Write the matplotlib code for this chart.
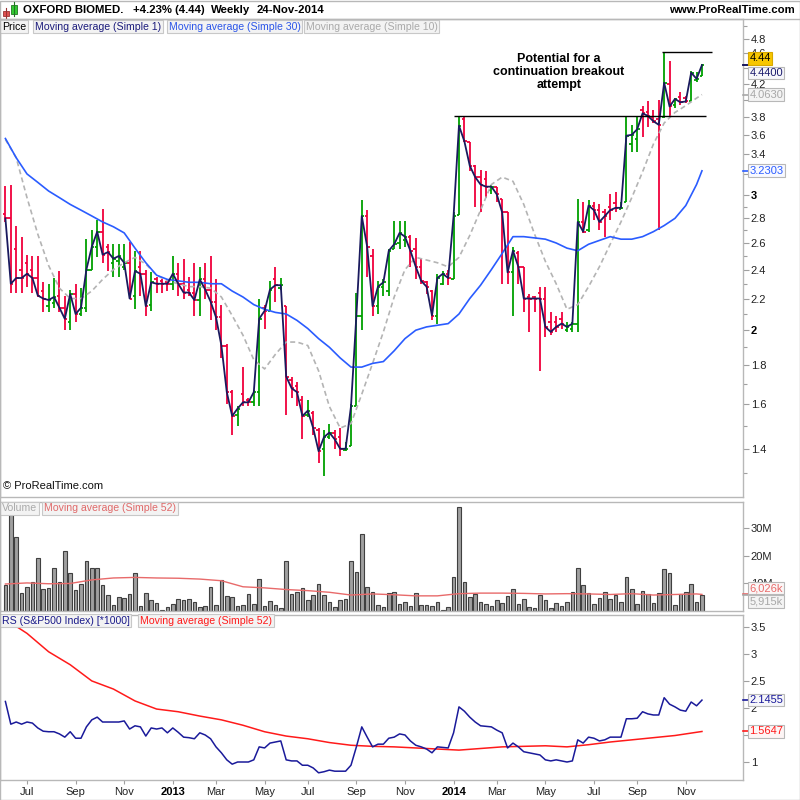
import numpy as np
import pandas as pd
import matplotlib
matplotlib.use('Agg')
import matplotlib.pyplot as plt
import matplotlib.transforms as mtransforms
from matplotlib.patches import Rectangle
from matplotlib.lines import Line2D
from matplotlib.ticker import NullFormatter

plt.rcParams['font.family'] = ['Liberation Sans', 'DejaVu Sans']

# weekly bars, 4-Jun-2012 .. 24-Nov-2014
week_start = '2012-06-04'
n_weeks = 130

op = [2.84, 2.80, 2.55, 2.40, 2.45, 2.40, 2.34, 2.25, 2.15, 2.17,
      2.22, 2.14, 2.05, 2.23, 2.10, 2.14, 2.40, 2.57, 2.69, 2.57,
      2.45, 2.46, 2.42, 2.45, 2.22, 2.42, 2.37, 2.16, 2.33, 2.32,
      2.31, 2.30, 2.37, 2.30, 2.26, 2.24, 2.19, 2.33, 2.26, 2.18,
      2.08, 1.91, 1.66, 1.55, 1.65, 1.62, 1.61, 1.66, 2.14, 2.12,
      2.33, 2.27, 2.15, 1.72, 1.69, 1.62, 1.55, 1.56, 1.48, 1.40,
      1.45, 1.47, 1.45, 1.395, 1.41, 1.59, 2.09, 2.82, 2.50, 2.15,
      2.28, 2.25, 2.55, 2.60, 2.62, 2.65, 2.55, 2.42, 2.31, 2.25,
      2.09, 2.30, 2.37, 2.33, 2.83, 3.78, 3.52, 3.28, 3.17, 3.15,
      3.05, 3.08, 2.97, 2.85, 2.38, 2.52, 2.42, 2.21, 2.21, 2.24,
      2.20, 2.05, 2.05, 2.07, 2.00, 2.01, 2.04, 2.77, 2.70, 2.91,
      2.87, 2.85, 2.90, 2.93, 2.88, 2.94, 3.50, 3.55, 3.88, 3.86,
      3.80, 3.78, 3.80, 4.20, 3.94, 4.03, 4.02, 3.99, 4.24, 4.30]
hi = [3.09, 3.10, 2.74, 2.65, 2.51, 2.50, 2.50, 2.31, 2.30, 2.34,
      2.39, 2.22, 2.26, 2.30, 2.27, 2.63, 2.70, 2.79, 2.88, 2.59,
      2.59, 2.59, 2.59, 2.61, 2.54, 2.54, 2.40, 2.38, 2.35, 2.33,
      2.33, 2.50, 2.45, 2.48, 2.35, 2.45, 2.42, 2.45, 2.50, 2.33,
      2.16, 1.92, 1.67, 1.59, 1.79, 1.63, 1.67, 2.20, 2.16, 2.32,
      2.42, 2.34, 2.15, 1.74, 1.71, 1.64, 1.62, 1.57, 1.49, 1.48,
      1.51, 1.48, 1.49, 1.43, 1.60, 2.24, 2.96, 2.87, 2.55, 2.32,
      2.33, 2.55, 2.78, 2.78, 2.78, 2.66, 2.64, 2.48, 2.32, 2.26,
      2.37, 2.39, 2.40, 2.85, 3.81, 3.81, 3.52, 3.29, 3.24, 3.23,
      3.10, 3.08, 2.97, 2.85, 2.57, 2.54, 2.42, 2.23, 2.22, 2.28,
      2.28, 2.11, 2.09, 2.11, 2.05, 2.05, 2.97, 2.94, 2.96, 2.94,
      2.92, 2.88, 3.01, 3.03, 2.94, 3.81, 3.71, 3.81, 3.92, 3.99,
      3.88, 4.00, 4.62, 4.49, 4.02, 4.10, 4.04, 4.36, 4.35, 4.45]
lo = [2.77, 2.24, 2.24, 2.24, 2.28, 2.24, 2.21, 2.11, 2.11, 2.14,
      2.11, 2.00, 2.00, 2.05, 2.09, 2.11, 2.40, 2.49, 2.45, 2.39,
      2.35, 2.35, 2.40, 2.20, 2.13, 2.22, 2.09, 2.12, 2.24, 2.24,
      2.25, 2.26, 2.22, 2.20, 2.22, 2.09, 2.09, 2.20, 2.06, 2.00,
      1.84, 1.60, 1.46, 1.50, 1.59, 1.59, 1.59, 1.59, 2.01, 2.12,
      2.18, 2.26, 1.55, 1.63, 1.59, 1.44, 1.54, 1.46, 1.34, 1.29,
      1.44, 1.40, 1.37, 1.39, 1.41, 1.59, 2.00, 2.35, 2.09, 2.10,
      2.22, 2.22, 2.55, 2.55, 2.57, 2.42, 2.33, 2.30, 2.23, 2.06,
      2.04, 2.29, 2.29, 2.33, 2.83, 3.52, 3.23, 2.90, 2.85, 2.98,
      3.01, 2.94, 2.30, 2.30, 2.09, 2.30, 2.11, 1.99, 2.11, 1.77,
      1.96, 1.97, 1.99, 2.01, 1.99, 1.99, 1.99, 2.68, 2.69, 2.79,
      2.70, 2.65, 2.79, 2.85, 2.88, 2.94, 3.42, 3.42, 3.58, 3.69,
      3.73, 2.70, 3.79, 3.81, 3.90, 3.94, 3.96, 3.98, 4.22, 4.29]
cl = [2.80, 2.30, 2.34, 2.34, 2.37, 2.34, 2.22, 2.20, 2.19, 2.21,
      2.14, 2.07, 2.23, 2.10, 2.14, 2.40, 2.57, 2.69, 2.51, 2.53,
      2.48, 2.50, 2.45, 2.20, 2.39, 2.37, 2.15, 2.31, 2.30, 2.30,
      2.30, 2.37, 2.30, 2.24, 2.24, 2.19, 2.33, 2.26, 2.18, 2.08,
      1.91, 1.66, 1.545, 1.58, 1.61, 1.61, 1.66, 2.07, 2.12, 2.26,
      2.29, 2.29, 1.74, 1.68, 1.66, 1.545, 1.57, 1.49, 1.39, 1.45,
      1.47, 1.44, 1.40, 1.40, 1.59, 2.09, 2.82, 2.57, 2.15, 2.28,
      2.31, 2.54, 2.59, 2.68, 2.65, 2.54, 2.42, 2.32, 2.28, 2.09,
      2.34, 2.37, 2.34, 2.82, 3.70, 3.53, 3.28, 3.17, 3.10, 3.08,
      3.08, 3.01, 2.85, 2.38, 2.54, 2.42, 2.20, 2.20, 2.20, 2.20,
      2.02, 1.99, 2.02, 2.04, 2.02, 2.04, 2.77, 2.69, 2.91, 2.87,
      2.77, 2.82, 2.87, 2.89, 2.89, 3.59, 3.60, 3.66, 3.84, 3.81,
      3.75, 3.71, 4.21, 3.92, 4.01, 3.97, 3.98, 4.34, 4.26, 4.44]

# volume in millions of shares
vol_m = [9.5, 35.6, 27.0, 6.5, 8.7, 10.5, 19.3, 8.0, 8.4, 15.6,
         10.5, 21.8, 13.8, 7.6, 9.8, 18.2, 15.6, 15.6, 9.5, 5.8,
         2.2, 5.1, 4.7, 6.2, 13.8, 1.8, 6.5, 4.0, 2.9, 0.4,
         1.5, 2.5, 4.4, 4.0, 4.4, 3.3, 1.5, 1.8, 8.7, 2.2,
         11.3, 5.5, 5.1, 1.8, 2.2, 6.2, 2.5, 11.6, 1.8, 3.6,
         2.2, 1.1, 18.2, 6.2, 6.9, 8.4, 4.0, 5.8, 9.8, 5.8,
         3.3, 1.5, 4.0, 4.4, 18.2, 14.2, 28.0, 8.7, 6.9, 2.2,
         1.5, 6.5, 6.9, 2.5, 3.3, 1.8, 6.5, 2.2, 2.2, 1.8,
         3.3, 0.4, 1.5, 12.4, 37.8, 10.5, 5.1, 6.2, 3.3, 2.5,
         1.8, 4.0, 2.9, 5.5, 8.0, 2.5, 4.4, 1.5, 1.1, 5.8,
         4.0, 1.1, 2.9, 1.8, 3.3, 6.9, 15.6, 9.5, 6.5, 2.5,
         4.7, 6.9, 4.4, 5.8, 3.3, 12.4, 8.0, 2.5, 7.3, 6.2,
         2.9, 6.5, 15.3, 13.8, 2.2, 6.2, 6.9, 9.8, 3.3, 5.915]

# relative strength vs S&P500 (*1000)
rs = [2.12, 1.70, 1.74, 1.70, 1.74, 1.72, 1.63, 1.57, 1.56, 1.56,
      1.52, 1.46, 1.56, 1.44, 1.44, 1.65, 1.78, 1.83, 1.74, 1.74,
      1.74, 1.74, 1.76, 1.61, 1.67, 1.65, 1.48, 1.63, 1.61, 1.63,
      1.54, 1.63, 1.55, 1.46, 1.45, 1.43, 1.54, 1.50, 1.43, 1.28,
      1.17, 1.04, 0.96, 1.00, 1.00, 1.00, 1.04, 1.28, 1.26, 1.35,
      1.37, 1.39, 1.04, 1.02, 1.02, 0.94, 0.94, 0.89, 0.80, 0.82,
      0.85, 0.83, 0.83, 0.83, 0.94, 1.28, 1.65, 1.46, 1.28, 1.33,
      1.33, 1.44, 1.46, 1.52, 1.50, 1.39, 1.31, 1.28, 1.24, 1.17,
      1.28, 1.27, 1.26, 1.54, 2.02, 1.94, 1.83, 1.74, 1.67, 1.66,
      1.65, 1.59, 1.54, 1.26, 1.35, 1.28, 1.19, 1.17, 1.15, 1.13,
      1.04, 1.02, 1.04, 1.02, 1.00, 1.02, 1.41, 1.35, 1.46, 1.44,
      1.39, 1.41, 1.46, 1.46, 1.46, 1.80, 1.80, 1.81, 1.93, 1.89,
      1.87, 1.87, 2.19, 2.07, 2.02, 1.96, 1.94, 2.11, 2.04, 2.1455]

# moving averages, read every 2nd / 4th week
ma_wk2 = list(range(0, 129, 2)) + [129]
ma30 = [3.56, 3.36, 3.20, 3.12, 3.04, 2.98, 2.92, 2.87, 2.82, 2.77,
        2.73, 2.68, 2.56, 2.45, 2.36, 2.33, 2.32, 2.31, 2.31, 2.30,
        2.30, 2.25, 2.21, 2.16, 2.13, 2.11, 2.10, 2.06, 2.01, 1.95,
        1.90, 1.84, 1.79, 1.79, 1.81, 1.82, 1.88, 1.95, 2.00, 2.02,
        2.03, 2.04, 2.10, 2.20, 2.29, 2.40, 2.52, 2.65, 2.65, 2.64,
        2.63, 2.60, 2.56, 2.54, 2.59, 2.62, 2.65, 2.63, 2.63, 2.65,
        2.69, 2.74, 2.80, 2.91, 3.10, 3.2303]
ma10 = [3.55, 3.36, 2.98, 2.67, 2.43, 2.27, 2.20, 2.20, 2.25, 2.33,
        2.40, 2.45, 2.49, 2.44, 2.36, 2.32, 2.30, 2.28, 2.28, 2.27,
        2.21, 2.09, 1.97, 1.83, 1.78, 1.86, 1.93, 1.93, 1.91, 1.77,
        1.59, 1.49, 1.51, 1.65, 1.81, 1.99, 2.21, 2.40, 2.49, 2.47,
        2.45, 2.42, 2.49, 2.66, 2.87, 3.10, 3.17, 3.13, 2.92, 2.67,
        2.46, 2.30, 2.13, 2.16, 2.28, 2.42, 2.59, 2.77, 2.98, 3.22,
        3.50, 3.73, 3.85, 3.93, 4.02, 4.063]
ma_wk4 = list(range(0, 129, 4)) + [129]
vol_ma52 = [9.8, 10.2, 9.9, 10.0, 11.3, 12.0, 12.2, 12.0, 11.9, 11.6,
            11.0, 8.8, 8.4, 7.8, 7.4, 6.8, 5.8, 6.2, 5.9, 5.5,
            5.5, 6.3, 6.5, 6.5, 6.4, 6.2, 6.3, 6.2, 6.0, 6.3,
            5.8, 6.0, 6.2, 6.026]
rs_ma52 = [3.64, 3.38, 3.04, 2.80, 2.50, 2.35, 2.13, 1.98, 1.93, 1.85,
           1.78, 1.68, 1.56, 1.48, 1.43, 1.36, 1.31, 1.29, 1.28, 1.26,
           1.24, 1.22, 1.25, 1.28, 1.29, 1.30, 1.28, 1.32, 1.37, 1.41,
           1.45, 1.49, 1.55, 1.5647]

# hand drawn resistance lines (level, from week, to week)
levels = [3.81, 4.62]
level_from = [83.1, 121.6]
level_to = [129.7, 130.9]

idx = np.arange(n_weeks)
dates = pd.date_range(week_start, periods=n_weeks, freq='7D')
up = np.array(cl) >= np.array(op)
bar_col = np.where(up, '#00a000', '#f0003c')

W, H = 800, 800
fig = plt.figure(figsize=(8, 8), dpi=100)


def px_rect(l, t, r, b):
    return [l / W, 1 - b / H, (r - l) / W, (b - t) / H]


ax_p = fig.add_axes(px_rect(0, 19, 743, 497))
ax_v = fig.add_axes(px_rect(0, 502, 743, 611))
ax_r = fig.add_axes(px_rect(0, 615, 743, 780))

for ax in (ax_p, ax_v, ax_r):
    ax.set_xlim(-1.0, 136.6)
    for s in ax.spines.values():
        s.set_color('#b8b8b8')
        s.set_linewidth(1)
    ax.yaxis.tick_right()
    ax.tick_params(axis='y', which='both', direction='out', color='#a0a0a0',
                   labelsize=8, labelcolor='#222222', pad=1.5, width=0.8)
    ax.tick_params(axis='y', which='major', length=4)
    ax.tick_params(axis='y', which='minor', length=3)
    ax.set_facecolor('white')

# ---- price panel
ax_p.vlines(idx, lo, hi, colors=bar_col, lw=1.3, zorder=2)
ax_p.hlines(op, idx - 0.45, idx, colors=bar_col, lw=1.3, zorder=2)
ax_p.hlines(cl, idx, idx + 0.45, colors=bar_col, lw=1.3, zorder=2)
ax_p.plot(ma_wk2, ma10, color='#b4b4b4', lw=1.2, dashes=(3, 2), zorder=3)
ax_p.plot(ma_wk2, ma30, color='#2a5cff', lw=1.2, zorder=3)
ax_p.plot(idx, cl, color='#1a1a5e', lw=1.3, zorder=4)
for lv, a, b in zip(levels, level_from, level_to):
    ax_p.hlines(lv, a, b, colors='black', lw=1.0, zorder=5)

ax_p.set_yscale('log')
ax_p.set_ylim(1.211, 5.10)
p_ticks = [1.4, 1.6, 1.8, 2, 2.2, 2.4, 2.6, 2.8, 3, 3.2, 3.4, 3.6, 3.8,
           4, 4.2, 4.4, 4.6, 4.8]
p_hidden = [3.2, 4, 4.4]          # covered by the value tags
ax_p.set_yticks(p_ticks, labels=['' if t in p_hidden else '%g' % t for t in p_ticks])
ax_p.set_yticks([1.3, 1.5, 1.7, 1.9, 2.1, 2.3, 2.5, 2.7, 2.9, 5.0], minor=True)
ax_p.yaxis.set_minor_formatter(NullFormatter())
for t in ax_p.get_yticklabels():
    if t.get_text() in ('2', '3'):
        t.set_fontweight('bold')
        t.set_color('black')
ax_p.set_xticks([])

ax_p.text(0.752, 0.889, 'Potential for a\ncontinuation breakout\nattempt',
          transform=ax_p.transAxes, ha='center', va='center', fontsize=9,
          fontweight='bold', linespacing=1.12, zorder=6)
ax_p.text(0.004, 0.012, '\u00a9 ProRealTime.com', transform=ax_p.transAxes,
          ha='left', va='bottom', fontsize=8, color='#111111')

# ---- volume panel
ax_v.bar(idx, vol_m, width=0.68, color='#a0a0a0', edgecolor='#404040',
         linewidth=0.8, zorder=2)
ax_v.plot(ma_wk4, vol_ma52, color='#e86a6a', lw=1.0, zorder=3)
ax_v.set_ylim(0, 39.6)
ax_v.set_yticks([10, 20, 30], labels=['10M', '20M', '30M'])
ax_v.set_xticks([])

# ---- relative strength panel
ax_r.plot(idx, rs, color='#1a1a9a', lw=1.1, zorder=3)
ax_r.plot(ma_wk4, rs_ma52, color='#ff1a1a', lw=1.1, zorder=2)
ax_r.set_ylim(0.667, 3.72)
r_ticks = [1, 1.5, 2, 2.5, 3, 3.5]
r_hidden = [1.5]
ax_r.set_yticks(r_ticks, labels=['' if t in r_hidden else '%g' % t for t in r_ticks])

first_wk = [i for i in range(n_weeks) if i > 0 and dates[i].month != dates[i - 1].month]
x_ticks = [i for i in first_wk if dates[i].month % 2 == 1]
x_labels = [str(dates[i].year) if dates[i].month == 1 else dates[i].strftime('%b')
            for i in x_ticks]
ax_r.set_xticks(x_ticks, labels=x_labels)
ax_r.tick_params(axis='x', direction='out', length=3, color='#a0a0a0',
                 labelsize=8, labelcolor='#222222', pad=2)
for t in ax_r.get_xticklabels():
    if t.get_text().isdigit():
        t.set_fontweight('bold')
        t.set_color('black')


# ---- value tags on the right scale
def tag(ax, y, text, color, fc='white', ec='#b8b8b8', dy=0, weight='normal'):
    tr = mtransforms.blended_transform_factory(ax.transAxes, ax.transData)
    ax.plot([1.0, 1.007], [y, y], transform=tr, color=color, lw=1.2,
            clip_on=False, zorder=9)
    ax.annotate(text, xy=(1, y), xycoords=tr, xytext=(4.5, dy),
                textcoords='offset points', ha='left', va='center',
                fontsize=8, color=color, fontweight=weight,
                bbox=dict(boxstyle='square,pad=0.12', fc=fc, ec=ec, lw=0.8),
                annotation_clip=False, zorder=10)


tag(ax_p, cl[-1], '4.44', 'black', fc='#f7c600', ec='#d8a800', dy=4.8)
tag(ax_p, cl[-1], '4.4400', '#1a1a6e', fc='#f6f6fa', dy=-5.6)
tag(ax_p, ma10[-1], '4.0630', '#a8a8a8', fc='#f4f4f4')
tag(ax_p, ma30[-1], '3.2303', '#2a5cff', fc='#f8f9ff')
tag(ax_v, vol_ma52[-1], '6,026k', '#e86a6a', fc='#fbf6f6', dy=4.5)
tag(ax_v, vol_m[-1], '5,915k', '#a8a8a8', fc='#f4f4f4', dy=-4.7)
tag(ax_r, rs[-1], '2.1455', '#1a1a9a', fc='#f6f6fa')
tag(ax_r, rs_ma52[-1], '1.5647', '#ff1a1a', fc='#fdf5f5')


# ---- legend rows inside each panel
def legend_row(ax, items, dy):
    for text, color, xpx in items:
        ax.annotate(text, xy=(xpx / 743, 1), xycoords='axes fraction',
                    xytext=(0, dy), textcoords='offset points', ha='left',
                    va='center', fontsize=7.6, color=color,
                    bbox=dict(boxstyle='square,pad=0.15', fc='#f3f3f3',
                              ec='#c8c8c8', lw=0.8), zorder=11)


legend_row(ax_p, [('Price', 'black', 2),
                  ('Moving average (Simple 1)', '#1c1c7c', 35),
                  ('Moving average (Simple 30)', '#2b55e8', 169),
                  ('Moving average (Simple 10)', '#aaaaaa', 306)], -5.5)
legend_row(ax_v, [('Volume', '#aaaaaa', 2),
                  ('Moving average (Simple 52)', '#e06a6a', 44)], -4.4)
legend_row(ax_r, [('RS (S&P500 Index) [*1000]', '#1a1a8a', 2),
                  ('Moving average (Simple 52)', '#ff1a1a', 140)], -4.2)

# ---- header
hdr = dict(fontsize=8.2, fontweight='bold', va='center')
fig.text(23 / W, 1 - 10 / H, 'OXFORD BIOMED.', **hdr)
fig.text(133 / W, 1 - 10 / H, '+4.23% (4.44)', **hdr)
fig.text(211 / W, 1 - 10 / H, 'Weekly', **hdr)
fig.text(257 / W, 1 - 10 / H, '24-Nov-2014', **hdr)
fig.text(795 / W, 1 - 10 / H, 'www.ProRealTime.com', ha='right', **hdr)

# small candle icon
fig.add_artist(Line2D([6 / W, 6 / W], [1 - 19 / H, 1 - 8 / H], color='#993333', lw=0.8))
fig.add_artist(Rectangle((3 / W, 1 - 16 / H), 6 / W, 5 / H, fc='#e05050', ec='#993333', lw=0.6))
fig.add_artist(Line2D([14 / W, 14 / W], [1 - 16 / H, 1 - 2 / H], color='#227722', lw=0.8))
fig.add_artist(Rectangle((11 / W, 1 - 14 / H), 6 / W, 9 / H, fc='#33cc33', ec='#227722', lw=0.6))

# frame lines
fig.add_artist(Line2D([0, 1], [1 - 19 / H, 1 - 19 / H], color='#b8b8b8', lw=1))
fig.add_artist(Rectangle((0, 0), 1 - 0.5 / W, 1 - 0.5 / H, fill=False, ec='#b8b8b8', lw=1))

fig.savefig('out.png', dpi=100)
